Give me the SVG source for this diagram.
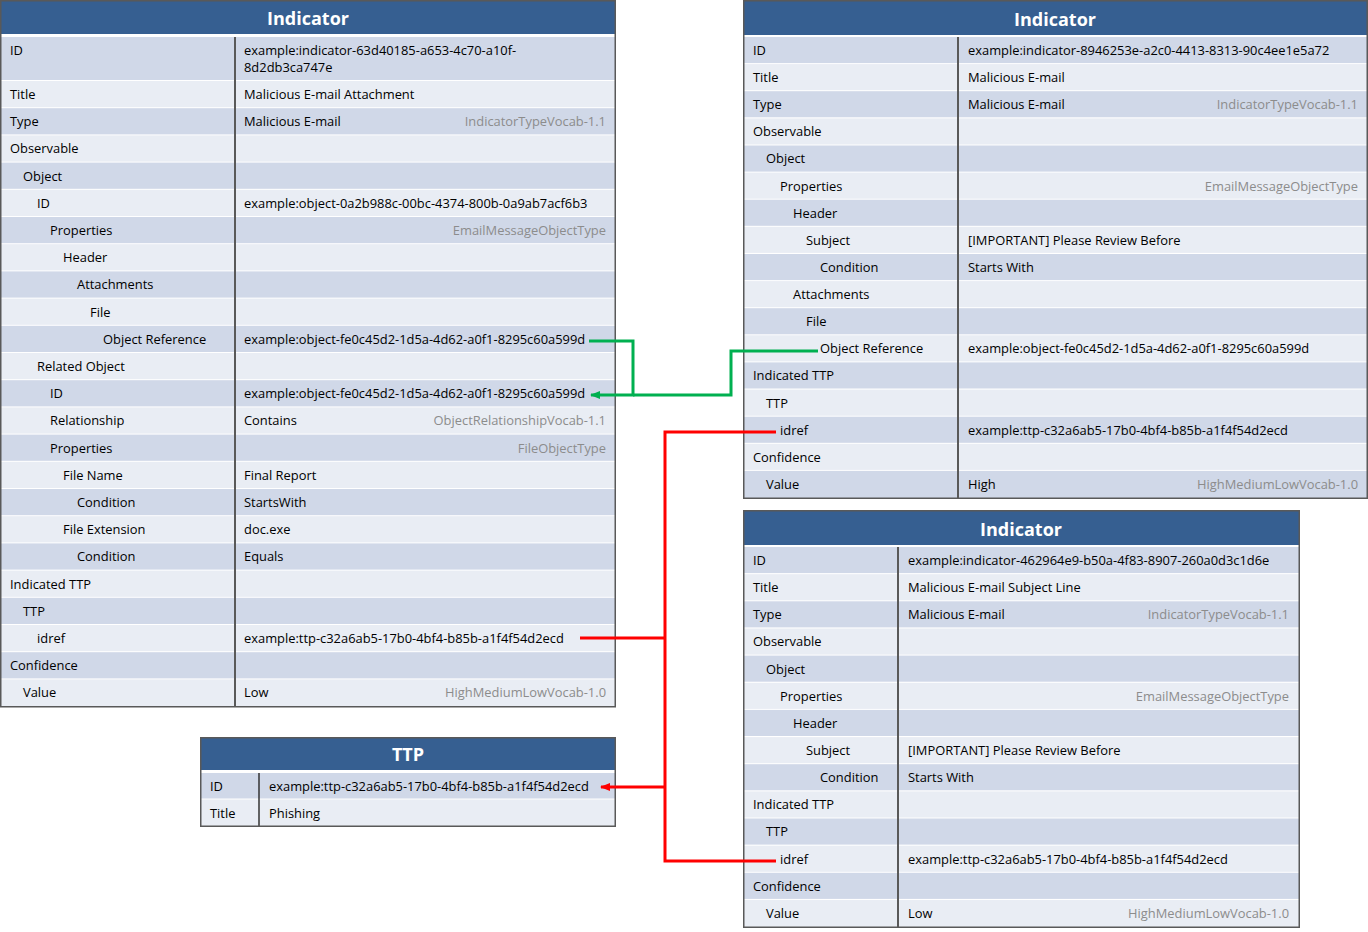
<svg xmlns="http://www.w3.org/2000/svg" width="1368" height="932" viewBox="0 0 1368 932">
<style>
.bg{fill:#ffffff}
.hd{fill:#365F91}
.d{fill:#D0D8E8}
.l{fill:#E9EDF4}
.ol{fill:none;stroke:#595959;stroke-width:1.5}
.dv{stroke:#595959;stroke-width:2}
.t{font-family:"Open Sans","Liberation Sans",sans-serif;font-size:12.9px;fill:#000}
.v{font-family:"Open Sans","Liberation Sans",sans-serif;font-size:12.9px;fill:#8C8C8C;text-anchor:end}
.ht{font-family:"Open Sans","Liberation Sans",sans-serif;font-size:18px;font-weight:bold;fill:#fff;text-anchor:middle}
.g{fill:none;stroke:#00B050;stroke-width:3}
.r{fill:none;stroke:#FF0000;stroke-width:3}
</style>
<defs>
<marker id="ag" markerWidth="10" markerHeight="8" refX="9" refY="4" orient="auto" markerUnits="userSpaceOnUse" viewBox="0 0 10 8"><path d="M0,0 L10,4 L0,8 Z" fill="#00B050"/></marker>
<marker id="ar" markerWidth="10" markerHeight="8" refX="9" refY="4" orient="auto" markerUnits="userSpaceOnUse" viewBox="0 0 10 8"><path d="M0,0 L10,4 L0,8 Z" fill="#FF0000"/></marker>
</defs>
<rect x="0" y="0" width="1368" height="932" fill="#fff"/>

<g id="indicator1">
<rect class="bg" x="0" y="0" width="616" height="707"/>
<rect class="hd" x="0" y="0" width="616" height="34"/>
<text class="ht" x="308" y="25">Indicator</text>
<rect class="d" x="1" y="37" width="614" height="43"/>
<rect class="l" x="1" y="81" width="614" height="26.2"/>
<rect class="d" x="1" y="108.2" width="614" height="26.2"/>
<rect class="l" x="1" y="135.4" width="614" height="26.2"/>
<rect class="d" x="1" y="162.6" width="614" height="26.2"/>
<rect class="l" x="1" y="189.8" width="614" height="26.2"/>
<rect class="d" x="1" y="217" width="614" height="26.2"/>
<rect class="l" x="1" y="244.2" width="614" height="26.2"/>
<rect class="d" x="1" y="271.4" width="614" height="26.2"/>
<rect class="l" x="1" y="298.6" width="614" height="26.2"/>
<rect class="d" x="1" y="325.8" width="614" height="26.2"/>
<rect class="l" x="1" y="353" width="614" height="26.2"/>
<rect class="d" x="1" y="380.2" width="614" height="26.2"/>
<rect class="l" x="1" y="407.4" width="614" height="26.2"/>
<rect class="d" x="1" y="434.6" width="614" height="26.2"/>
<rect class="l" x="1" y="461.8" width="614" height="26.2"/>
<rect class="d" x="1" y="489" width="614" height="26.2"/>
<rect class="l" x="1" y="516.2" width="614" height="26.2"/>
<rect class="d" x="1" y="543.4" width="614" height="26.2"/>
<rect class="l" x="1" y="570.6" width="614" height="26.2"/>
<rect class="d" x="1" y="597.8" width="614" height="26.2"/>
<rect class="l" x="1" y="625" width="614" height="26.2"/>
<rect class="d" x="1" y="652.2" width="614" height="26.2"/>
<rect class="l" x="1" y="679.4" width="614" height="27.2"/>
<line class="dv" x1="235" y1="37" x2="235" y2="707"/>
<rect class="ol" x="0.75" y="0.75" width="614.5" height="706"/>
<text class="t" x="10" y="55">ID</text>
<text class="t" x="244" y="55">example:indicator-63d40185-a653-4c70-a10f-</text>
<text class="t" x="244" y="72">8d2db3ca747e</text>
<text class="t" x="10" y="98.9">Title</text><text class="t" x="244" y="98.9">Malicious E-mail Attachment</text>
<text class="t" x="10" y="126.1">Type</text><text class="t" x="244" y="126.1">Malicious E-mail</text><text class="v" x="606" y="126.1">IndicatorTypeVocab-1.1</text>
<text class="t" x="10" y="153.3">Observable</text>
<text class="t" x="23" y="180.5">Object</text>
<text class="t" x="37" y="207.7">ID</text><text class="t" x="244" y="207.7">example:object-0a2b988c-00bc-4374-800b-0a9ab7acf6b3</text>
<text class="t" x="50" y="234.9">Properties</text><text class="v" x="606" y="234.9">EmailMessageObjectType</text>
<text class="t" x="63" y="262.1">Header</text>
<text class="t" x="77" y="289.3">Attachments</text>
<text class="t" x="90" y="316.5">File</text>
<text class="t" x="103" y="343.7">Object Reference</text><text class="t" x="244" y="343.7">example:object-fe0c45d2-1d5a-4d62-a0f1-8295c60a599d</text>
<text class="t" x="37" y="370.9">Related Object</text>
<text class="t" x="50" y="398.1">ID</text><text class="t" x="244" y="398.1">example:object-fe0c45d2-1d5a-4d62-a0f1-8295c60a599d</text>
<text class="t" x="50" y="425.3">Relationship</text><text class="t" x="244" y="425.3">Contains</text><text class="v" x="606" y="425.3">ObjectRelationshipVocab-1.1</text>
<text class="t" x="50" y="452.5">Properties</text><text class="v" x="606" y="452.5">FileObjectType</text>
<text class="t" x="63" y="479.7">File Name</text><text class="t" x="244" y="479.7">Final Report</text>
<text class="t" x="77" y="506.9">Condition</text><text class="t" x="244" y="506.9">StartsWith</text>
<text class="t" x="63" y="534.1">File Extension</text><text class="t" x="244" y="534.1">doc.exe</text>
<text class="t" x="77" y="561.3">Condition</text><text class="t" x="244" y="561.3">Equals</text>
<text class="t" x="10" y="588.5">Indicated TTP</text>
<text class="t" x="23" y="615.7">TTP</text>
<text class="t" x="37" y="642.9">idref</text><text class="t" x="244" y="642.9">example:ttp-c32a6ab5-17b0-4bf4-b85b-a1f4f54d2ecd</text>
<text class="t" x="10" y="670.1">Confidence</text>
<text class="t" x="23" y="697.3">Value</text><text class="t" x="244" y="697.3">Low</text><text class="v" x="606" y="697.3">HighMediumLowVocab-1.0</text>
</g>

<g id="indicator2">
<rect class="bg" x="743" y="0" width="625" height="499"/>
<rect class="hd" x="743" y="0" width="625" height="35"/>
<text class="ht" x="1055" y="26">Indicator</text>
<rect class="d" x="744" y="37" width="623" height="26.1"/>
<rect class="l" x="744" y="64.1" width="623" height="26.1"/>
<rect class="d" x="744" y="91.2" width="623" height="26.1"/>
<rect class="l" x="744" y="118.4" width="623" height="26.1"/>
<rect class="d" x="744" y="145.5" width="623" height="26.1"/>
<rect class="l" x="744" y="172.6" width="623" height="26.1"/>
<rect class="d" x="744" y="199.7" width="623" height="26.1"/>
<rect class="l" x="744" y="226.8" width="623" height="26.1"/>
<rect class="d" x="744" y="254" width="623" height="26.1"/>
<rect class="l" x="744" y="281.1" width="623" height="26.1"/>
<rect class="d" x="744" y="308.2" width="623" height="26.1"/>
<rect class="l" x="744" y="335.3" width="623" height="26.1"/>
<rect class="d" x="744" y="362.4" width="623" height="26.1"/>
<rect class="l" x="744" y="389.6" width="623" height="26.1"/>
<rect class="d" x="744" y="416.7" width="623" height="26.1"/>
<rect class="l" x="744" y="443.8" width="623" height="26.1"/>
<rect class="d" x="744" y="470.9" width="623" height="27.1"/>
<line class="dv" x1="958" y1="37" x2="958" y2="498"/>
<rect class="ol" x="743.75" y="0.75" width="623.5" height="497.5"/>
<text class="t" x="753" y="54.9">ID</text><text class="t" x="968" y="54.9">example:indicator-8946253e-a2c0-4413-8313-90c4ee1e5a72</text>
<text class="t" x="753" y="82">Title</text><text class="t" x="968" y="82">Malicious E-mail</text>
<text class="t" x="753" y="109.1">Type</text><text class="t" x="968" y="109.1">Malicious E-mail</text><text class="v" x="1358" y="109.1">IndicatorTypeVocab-1.1</text>
<text class="t" x="753" y="136.3">Observable</text>
<text class="t" x="766" y="163.4">Object</text>
<text class="t" x="780" y="190.5">Properties</text><text class="v" x="1358" y="190.5">EmailMessageObjectType</text>
<text class="t" x="793" y="217.6">Header</text>
<text class="t" x="806" y="244.7">Subject</text><text class="t" x="968" y="244.7">[IMPORTANT] Please Review Before</text>
<text class="t" x="820" y="271.9">Condition</text><text class="t" x="968" y="271.9">Starts With</text>
<text class="t" x="793" y="299">Attachments</text>
<text class="t" x="806" y="326.1">File</text>
<text class="t" x="820" y="353.2">Object Reference</text><text class="t" x="968" y="353.2">example:object-fe0c45d2-1d5a-4d62-a0f1-8295c60a599d</text>
<text class="t" x="753" y="380.3">Indicated TTP</text>
<text class="t" x="766" y="407.5">TTP</text>
<text class="t" x="780" y="434.6">idref</text><text class="t" x="968" y="434.6">example:ttp-c32a6ab5-17b0-4bf4-b85b-a1f4f54d2ecd</text>
<text class="t" x="753" y="461.7">Confidence</text>
<text class="t" x="766" y="488.8">Value</text><text class="t" x="968" y="488.8">High</text><text class="v" x="1358" y="488.8">HighMediumLowVocab-1.0</text>
</g>

<g id="indicator3">
<rect class="bg" x="743" y="510" width="557" height="418"/>
<rect class="hd" x="743" y="510" width="557" height="35"/>
<text class="ht" x="1021" y="536">Indicator</text>
<rect class="d" x="744" y="547" width="555" height="26.1"/>
<rect class="l" x="744" y="574.2" width="555" height="26.1"/>
<rect class="d" x="744" y="601.3" width="555" height="26.1"/>
<rect class="l" x="744" y="628.5" width="555" height="26.1"/>
<rect class="d" x="744" y="655.6" width="555" height="26.1"/>
<rect class="l" x="744" y="682.8" width="555" height="26.1"/>
<rect class="d" x="744" y="709.9" width="555" height="26.1"/>
<rect class="l" x="744" y="737.1" width="555" height="26.1"/>
<rect class="d" x="744" y="764.2" width="555" height="26.1"/>
<rect class="l" x="744" y="791.4" width="555" height="26.1"/>
<rect class="d" x="744" y="818.5" width="555" height="26.1"/>
<rect class="l" x="744" y="845.7" width="555" height="26.1"/>
<rect class="d" x="744" y="872.8" width="555" height="26.1"/>
<rect class="l" x="744" y="900" width="555" height="27.2"/>
<line class="dv" x1="898" y1="547" x2="898" y2="927"/>
<rect class="ol" x="743.75" y="510.75" width="555.5" height="416.5"/>
<text class="t" x="753" y="564.9">ID</text><text class="t" x="908" y="564.9">example:indicator-462964e9-b50a-4f83-8907-260a0d3c1d6e</text>
<text class="t" x="753" y="592.1">Title</text><text class="t" x="908" y="592.1">Malicious E-mail Subject Line</text>
<text class="t" x="753" y="619.2">Type</text><text class="t" x="908" y="619.2">Malicious E-mail</text><text class="v" x="1289" y="619.2">IndicatorTypeVocab-1.1</text>
<text class="t" x="753" y="646.4">Observable</text>
<text class="t" x="766" y="673.5">Object</text>
<text class="t" x="780" y="700.7">Properties</text><text class="v" x="1289" y="700.7">EmailMessageObjectType</text>
<text class="t" x="793" y="727.8">Header</text>
<text class="t" x="806" y="755">Subject</text><text class="t" x="908" y="755">[IMPORTANT] Please Review Before</text>
<text class="t" x="820" y="782.1">Condition</text><text class="t" x="908" y="782.1">Starts With</text>
<text class="t" x="753" y="809.3">Indicated TTP</text>
<text class="t" x="766" y="836.4">TTP</text>
<text class="t" x="780" y="863.6">idref</text><text class="t" x="908" y="863.6">example:ttp-c32a6ab5-17b0-4bf4-b85b-a1f4f54d2ecd</text>
<text class="t" x="753" y="890.7">Confidence</text>
<text class="t" x="766" y="917.9">Value</text><text class="t" x="908" y="917.9">Low</text><text class="v" x="1289" y="917.9">HighMediumLowVocab-1.0</text>
</g>

<g id="ttp">
<rect class="bg" x="200" y="737" width="416" height="90"/>
<rect class="hd" x="200" y="737" width="416" height="33"/>
<text class="ht" x="408" y="761">TTP</text>
<rect class="d" x="201" y="773" width="414" height="25.5"/>
<rect class="l" x="201" y="799.5" width="414" height="26.5"/>
<line x1="259" y1="773" x2="259" y2="826" stroke="#333" stroke-width="1.5"/>
<rect class="ol" x="200.75" y="737.75" width="414.5" height="88.5"/>
<text class="t" x="210" y="790.5">ID</text><text class="t" x="269" y="790.5">example:ttp-c32a6ab5-17b0-4bf4-b85b-a1f4f54d2ecd</text>
<text class="t" x="210" y="817.5">Title</text><text class="t" x="269" y="817.5">Phishing</text>
</g>

<g id="connectors">
<path class="g" d="M589,341 H633 V395 H591" marker-end="url(#ag)"/>
<path class="g" d="M818,351 H731 V395 H633"/>
<path class="r" d="M580,638 H665"/>
<path class="r" d="M776,432 H665 V861 H776"/>
<path class="r" d="M665,787 H601" marker-end="url(#ar)"/>
</g>
</svg>
